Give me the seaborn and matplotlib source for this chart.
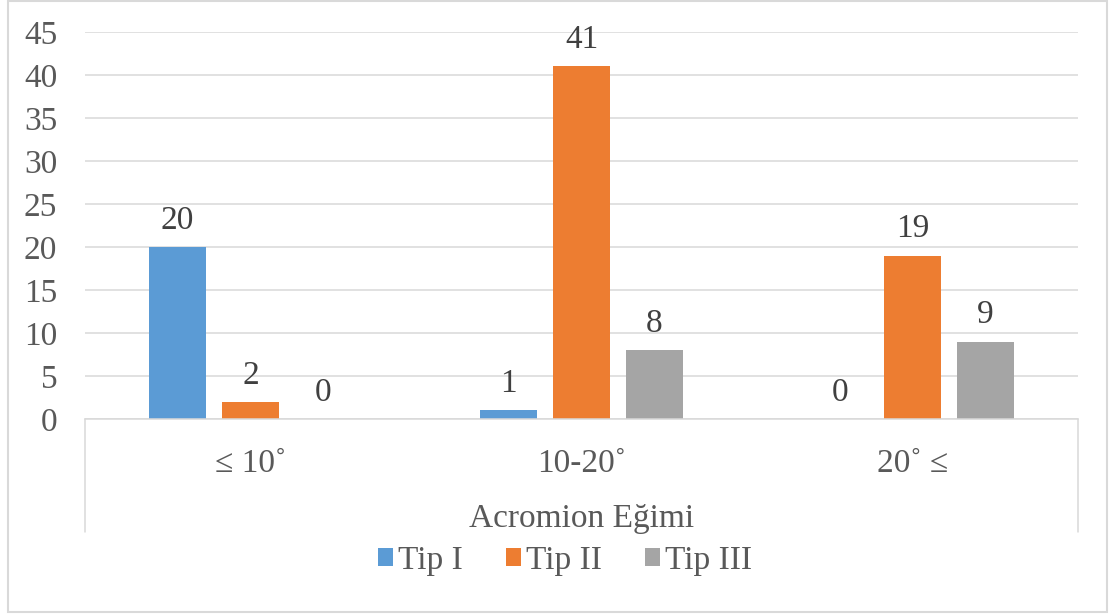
import matplotlib
matplotlib.use("Agg")
import matplotlib.pyplot as plt
from matplotlib.patches import Rectangle, Patch
import seaborn as sns
import pandas as pd

# Acromion slope groups and counts per acromion type
categories = ["≤ 10˚", "10-20˚", "20˚ ≤"]
types = ["Tip I", "Tip II", "Tip III"]
tip_1 = [20, 1, 0]
tip_2 = [2, 41, 19]
tip_3 = [0, 8, 9]
y_ticks = [0, 5, 10, 15, 20, 25, 30, 35, 40, 45]

colors = ["#5B9BD5", "#ED7D31", "#A5A5A5"]
text_color = "#595959"
label_color = "#404040"
line_color = "#D9D9D9"

df = pd.DataFrame({
    "Acromion Eğimi": categories * 3,
    "Tip": [t for t in types for _ in categories],
    "Sayı": tip_1 + tip_2 + tip_3,
})

sns.set_theme(style="white")
plt.rcParams["font.family"] = ["Liberation Serif", "DejaVu Serif"]

fig = plt.figure(figsize=(11.09, 6.14), dpi=100)
ax = fig.add_axes([85 / 1109, 1 - 419 / 614, (1078 - 85) / 1109, (419 - 32) / 614])

sns.barplot(data=df, x="Acromion Eğimi", y="Sayı", hue="Tip",
            order=categories, hue_order=types, palette=colors,
            width=0.66, gap=0.22, saturation=1, linewidth=0,
            ax=ax, legend=False)

for cont in ax.containers:
    ax.bar_label(cont, padding=8, fontsize=24, color=label_color)

ax.set_ylim(0, 45)
ax.set_yticks(y_ticks)
ax.set_xlim(-0.5, 2.5)
ax.yaxis.grid(True, color=line_color, linewidth=1.1)
ax.set_axisbelow(True)
for side in ["top", "left", "right"]:
    ax.spines[side].set_visible(False)
ax.spines["bottom"].set_color(line_color)
ax.spines["bottom"].set_linewidth(1.1)

ax.tick_params(axis="y", length=0, pad=20, labelsize=24, labelcolor=text_color)
ax.tick_params(axis="x", length=0, pad=21, labelsize=24, labelcolor=text_color)
ax.set_ylabel("")
ax.set_xlabel("Acromion Eğimi", fontsize=24, color=text_color, labelpad=18)

# Category axis frame lines extending below the plot area
depth = -(532 - 419) / (419 - 32)
for xv in (0, 1):
    ax.plot([xv, xv], [0, depth], transform=ax.transAxes, color=line_color,
            linewidth=1.1, clip_on=False)

handles = [Patch(facecolor=c, edgecolor="none") for c in colors]
fig.legend(handles, types, loc="center", bbox_to_anchor=(565 / 1109, 1 - 561 / 614),
           ncol=3, frameon=False, fontsize=24, labelcolor=text_color,
           handlelength=0.45, handleheight=0.45, handletextpad=0.15,
           columnspacing=1.3)

# Chart area border
fig.patches.append(Rectangle((8 / 1109, 2 / 614), (1107 - 8) / 1109, (613 - 2) / 614,
                             transform=fig.transFigure, fill=False,
                             edgecolor=line_color, linewidth=1.5))

fig.savefig("out.png", dpi=100)
